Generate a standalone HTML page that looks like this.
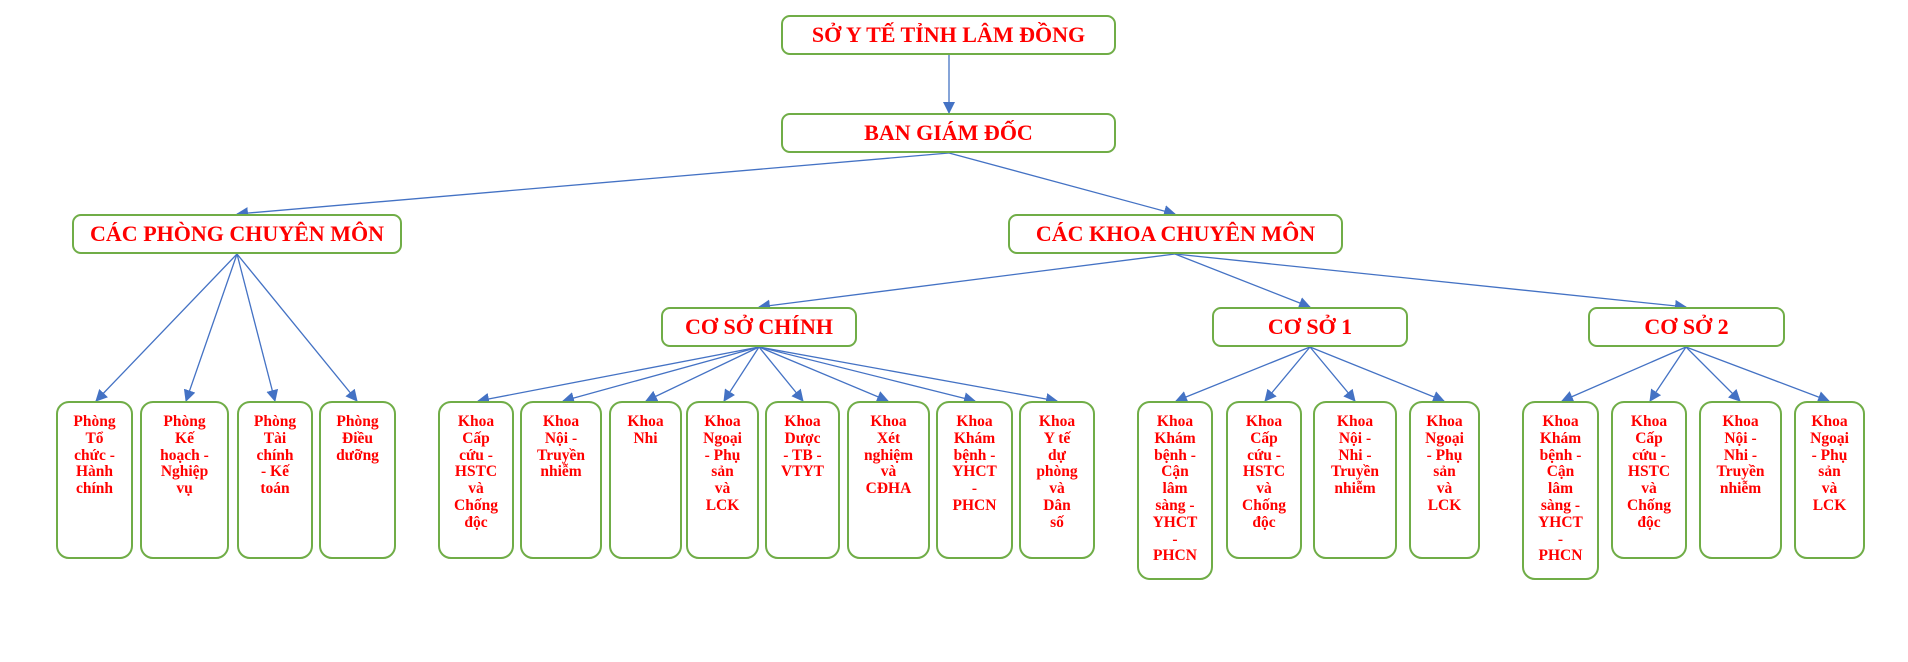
<!DOCTYPE html>
<html><head><meta charset="utf-8">
<style>
html,body{margin:0;padding:0;background:#fff;}
body{width:1908px;height:662px;position:relative;overflow:hidden;font-family:"Liberation Serif","Noto Serif CJK SC",serif;}
.b{position:absolute;box-sizing:border-box;border:2.5px solid #70AD47;border-radius:9px;background:#fff;color:#ff0000;font-weight:bold;text-align:center;}
.t{font-size:22px;display:flex;align-items:center;justify-content:center;}
.l{font-size:15.5px;line-height:16.8px;padding-top:11px;border-radius:13px;}
svg{position:absolute;left:0;top:0;}
</style></head><body>
<svg width="1908" height="662">
<defs><marker id="a" markerWidth="12" markerHeight="12" refX="11" refY="6" orient="auto" markerUnits="userSpaceOnUse"><path d="M0,0 L12,6 L0,12 z" fill="#4472C4"/></marker></defs>
<g stroke="#4472C4" stroke-width="1.3" fill="none" marker-end="url(#a)">
<line x1="949" y1="55" x2="949" y2="113"/>
<line x1="949" y1="153" x2="237" y2="214"/>
<line x1="949" y1="153" x2="1175" y2="214"/>
<line x1="237" y1="254" x2="96" y2="401"/>
<line x1="237" y1="254" x2="186" y2="401"/>
<line x1="237" y1="254" x2="275" y2="401"/>
<line x1="237" y1="254" x2="357" y2="401"/>
<line x1="1175" y1="254" x2="759" y2="307"/>
<line x1="1175" y1="254" x2="1310" y2="307"/>
<line x1="1175" y1="254" x2="1686" y2="307"/>
<line x1="759" y1="347" x2="478" y2="401"/>
<line x1="759" y1="347" x2="563" y2="401"/>
<line x1="759" y1="347" x2="646" y2="401"/>
<line x1="759" y1="347" x2="724" y2="401"/>
<line x1="759" y1="347" x2="803" y2="401"/>
<line x1="759" y1="347" x2="888" y2="401"/>
<line x1="759" y1="347" x2="975" y2="401"/>
<line x1="759" y1="347" x2="1057" y2="401"/>
<line x1="1310" y1="347" x2="1176" y2="401"/>
<line x1="1310" y1="347" x2="1265" y2="401"/>
<line x1="1310" y1="347" x2="1355" y2="401"/>
<line x1="1310" y1="347" x2="1444" y2="401"/>
<line x1="1686" y1="347" x2="1562" y2="401"/>
<line x1="1686" y1="347" x2="1650" y2="401"/>
<line x1="1686" y1="347" x2="1740" y2="401"/>
<line x1="1686" y1="347" x2="1829" y2="401"/>
</g></svg>

<div class="b t" style="left:781px;top:15px;width:335px;height:40px;">SỞ Y TẾ TỈNH LÂM ĐỒNG</div>
<div class="b t" style="left:781px;top:113px;width:335px;height:40px;">BAN GIÁM ĐỐC</div>
<div class="b t" style="left:72px;top:214px;width:330px;height:40px;">CÁC PHÒNG CHUYÊN MÔN</div>
<div class="b t" style="left:1008px;top:214px;width:335px;height:40px;">CÁC KHOA CHUYÊN MÔN</div>
<div class="b t" style="left:661px;top:307px;width:196px;height:40px;">CƠ SỞ CHÍNH</div>
<div class="b t" style="left:1212px;top:307px;width:196px;height:40px;">CƠ SỞ 1</div>
<div class="b t" style="left:1588px;top:307px;width:197px;height:40px;">CƠ SỞ 2</div>

<div class="b l" style="left:56px;top:401px;width:77px;height:158px;">Phòng<br>Tổ<br>chức -<br>Hành<br>chính</div>
<div class="b l" style="left:140px;top:401px;width:89px;height:158px;">Phòng<br>Kế<br>hoạch -<br>Nghiệp<br>vụ</div>
<div class="b l" style="left:237px;top:401px;width:76px;height:158px;">Phòng<br>Tài<br>chính<br>- Kế<br>toán</div>
<div class="b l" style="left:319px;top:401px;width:77px;height:158px;">Phòng<br>Điều<br>dưỡng</div>

<div class="b l" style="left:438px;top:401px;width:76px;height:158px;">Khoa<br>Cấp<br>cứu -<br>HSTC<br>và<br>Chống<br>độc</div>
<div class="b l" style="left:520px;top:401px;width:82px;height:158px;">Khoa<br>Nội -<br>Truyền<br>nhiễm</div>
<div class="b l" style="left:609px;top:401px;width:73px;height:158px;">Khoa<br>Nhi</div>
<div class="b l" style="left:686px;top:401px;width:73px;height:158px;">Khoa<br>Ngoại<br>- Phụ<br>sản<br>và<br>LCK</div>
<div class="b l" style="left:765px;top:401px;width:75px;height:158px;">Khoa<br>Dược<br>- TB -<br>VTYT</div>
<div class="b l" style="left:847px;top:401px;width:83px;height:158px;">Khoa<br>Xét<br>nghiệm<br>và<br>CĐHA</div>
<div class="b l" style="left:936px;top:401px;width:77px;height:158px;">Khoa<br>Khám<br>bệnh -<br>YHCT<br>-<br>PHCN</div>
<div class="b l" style="left:1019px;top:401px;width:76px;height:158px;">Khoa<br>Y tế<br>dự<br>phòng<br>và<br>Dân<br>số</div>

<div class="b l" style="left:1137px;top:401px;width:76px;height:179px;">Khoa<br>Khám<br>bệnh -<br>Cận<br>lâm<br>sàng -<br>YHCT<br>-<br>PHCN</div>
<div class="b l" style="left:1226px;top:401px;width:76px;height:158px;">Khoa<br>Cấp<br>cứu -<br>HSTC<br>và<br>Chống<br>độc</div>
<div class="b l" style="left:1313px;top:401px;width:84px;height:158px;">Khoa<br>Nội -<br>Nhi -<br>Truyền<br>nhiễm</div>
<div class="b l" style="left:1409px;top:401px;width:71px;height:158px;">Khoa<br>Ngoại<br>- Phụ<br>sản<br>và<br>LCK</div>

<div class="b l" style="left:1522px;top:401px;width:77px;height:179px;">Khoa<br>Khám<br>bệnh -<br>Cận<br>lâm<br>sàng -<br>YHCT<br>-<br>PHCN</div>
<div class="b l" style="left:1611px;top:401px;width:76px;height:158px;">Khoa<br>Cấp<br>cứu -<br>HSTC<br>và<br>Chống<br>độc</div>
<div class="b l" style="left:1699px;top:401px;width:83px;height:158px;">Khoa<br>Nội -<br>Nhi -<br>Truyền<br>nhiễm</div>
<div class="b l" style="left:1794px;top:401px;width:71px;height:158px;">Khoa<br>Ngoại<br>- Phụ<br>sản<br>và<br>LCK</div>
</body></html>
